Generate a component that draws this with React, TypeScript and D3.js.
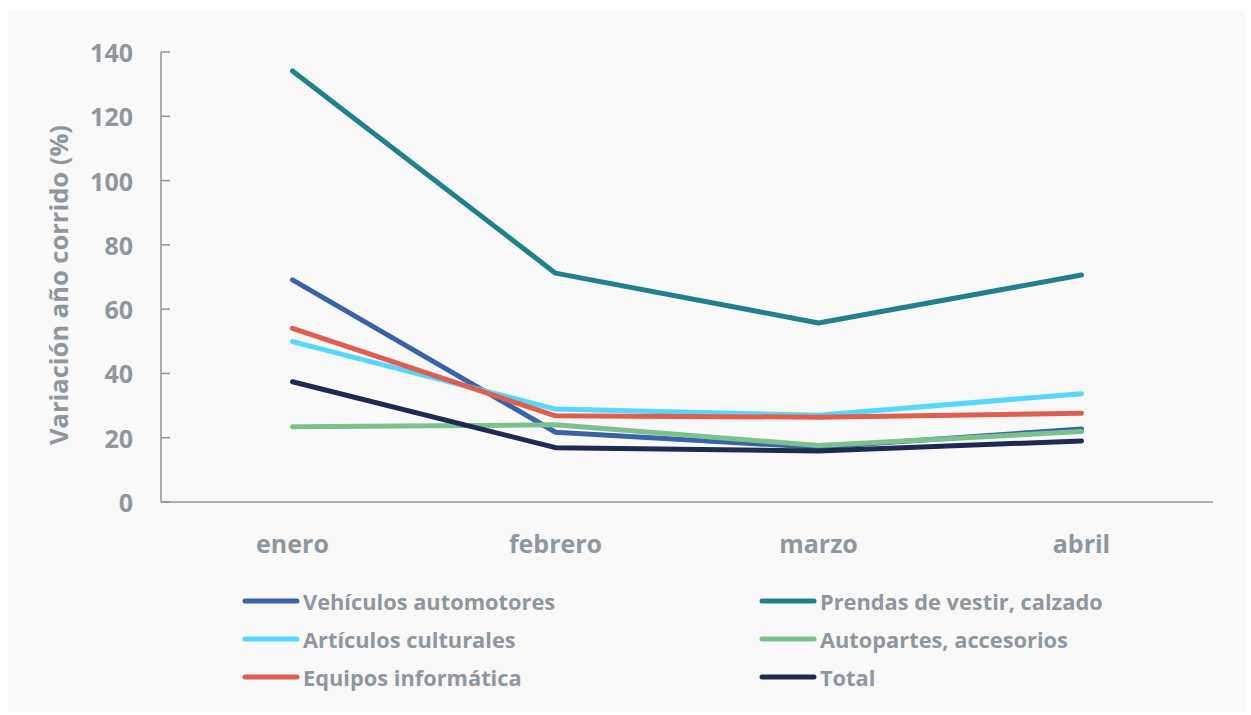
import React from "react";
import * as d3 from "d3";

const months = ["enero", "febrero", "marzo", "abril"];
const yTicks = [0, 20, 40, 60, 80, 100, 120, 140];

const seriesNames = [
  "Vehículos automotores",
  "Prendas de vestir, calzado",
  "Artículos culturales",
  "Autopartes, accesorios",
  "Equipos informática",
  "Total",
];
const seriesColors = ["#3a62a7", "#21808d", "#56d7fd", "#7bc18b", "#e05e4f", "#1f2a52"];

const vehiculos = [69.1, 21.7, 17.0, 22.7];
const prendas = [134.1, 71.2, 55.7, 70.6];
const articulos = [49.9, 28.9, 27.0, 33.7];
const autopartes = [23.4, 24.0, 17.6, 21.9];
const equipos = [54.0, 26.8, 26.4, 27.6];
const total = [37.4, 16.9, 15.9, 19.0];

const seriesValues = [vehiculos, prendas, articulos, autopartes, equipos, total];

const W = 1251;
const H = 715;
const left = 161;
const right = 1213;
const top = 52;
const bottom = 502;
const textColor = "#8e979f";
const axisColor = "#8c959d";
const font = "'Open Sans', Lato, sans-serif";

export default function App() {
  const x = d3.scaleBand<string>().domain(months).range([left, right]);
  const y = d3.scaleLinear().domain([0, 140]).range([bottom, top]);
  const line = d3
    .line<number>()
    .x((_, i) => (x(months[i]) as number) + x.bandwidth() / 2)
    .y((v) => y(v));

  const legendCols = [245, 762];
  const legendRows = [601, 639, 677];

  return (
    <div style={{ position: "absolute", left: 0, top: 0 }}>
      <svg width={W} height={H} style={{ display: "block" }}>
        <rect x={0} y={0} width={W} height={H} fill="#ffffff" />
        <rect x={8} y={11} width={1237} height={701} fill="#f9f9f9" />
        {/* y axis */}
        <line x1={left} x2={left} y1={y(140)} y2={y(0)} stroke={axisColor} strokeWidth={1.5} />
        {yTicks.map((t) => (
          <g key={t}>
            <line x1={left} x2={left + 9} y1={y(t)} y2={y(t)} stroke={axisColor} strokeWidth={1.5} />
            <text
              x={133}
              y={y(t)}
              textAnchor="end"
              dominantBaseline="central"
              fontFamily={font}
              fontWeight={700}
              fontSize={25}
              fill={textColor}
            >
              {t}
            </text>
          </g>
        ))}
        {/* x axis */}
        <line x1={left} x2={right} y1={bottom} y2={bottom} stroke={axisColor} strokeWidth={1.5} />
        {months.map((m) => (
          <text
            key={m}
            x={(x(m) as number) + x.bandwidth() / 2}
            y={543}
            textAnchor="middle"
            dominantBaseline="central"
            fontFamily={font}
            fontWeight={700}
            fontSize={25}
            fill={textColor}
          >
            {m}
          </text>
        ))}
        <text
          transform={`translate(58, ${(top + bottom) / 2 + 8}) rotate(-90)`}
          textAnchor="middle"
          dominantBaseline="central"
          fontFamily={font}
          fontWeight={700}
          fontSize={25.5}
          fill={textColor}
        >
          Variación año corrido (%)
        </text>
        {seriesValues.map((vals, i) => (
          <path
            key={seriesNames[i]}
            d={line(vals) as string}
            fill="none"
            stroke={seriesColors[i]}
            strokeWidth={5}
            strokeLinecap="round"
            strokeLinejoin="round"
          />
        ))}
        {/* legend */}
        {seriesNames.map((name, i) => {
          const cx = legendCols[i % 2];
          const cy = legendRows[Math.floor(i / 2)];
          return (
            <g key={name}>
              <line
                x1={cx}
                x2={cx + 52}
                y1={cy}
                y2={cy}
                stroke={seriesColors[i]}
                strokeWidth={5}
                strokeLinecap="round"
              />
              <text
                x={cx + 58}
                y={cy}
                dominantBaseline="central"
                fontFamily={font}
                fontWeight={700}
                fontSize={21.8}
                fill={textColor}
              >
                {name}
              </text>
            </g>
          );
        })}
      </svg>
    </div>
  );
}
